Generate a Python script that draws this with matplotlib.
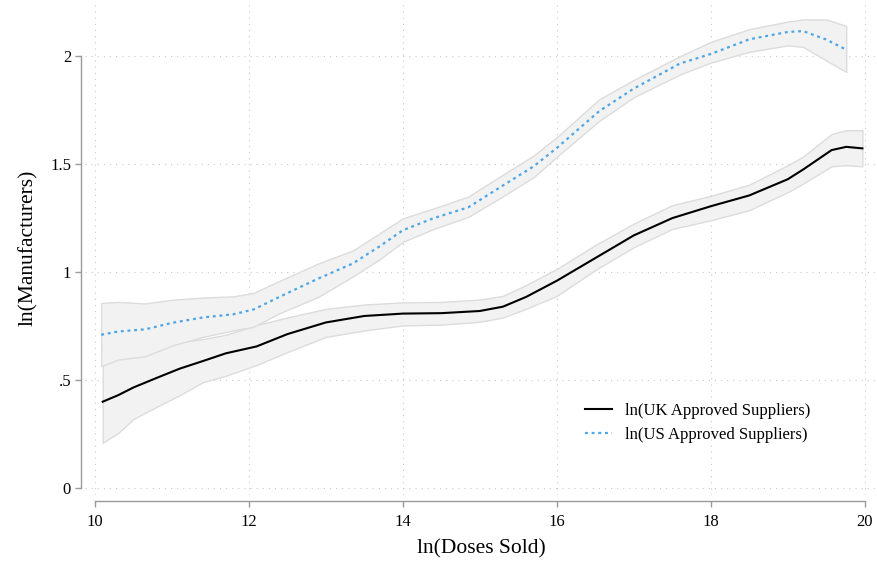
#!/usr/bin/env python3
"""ln(Manufacturers) vs ln(Doses Sold): UK / US approved suppliers, with CI bands."""

import matplotlib
matplotlib.use("Agg")
import matplotlib.pyplot as plt

# UK approved suppliers: fitted line and CI band
uk_x = [10.1, 10.3, 10.5, 10.8, 11.1, 11.4, 11.7, 12.1, 12.5, 13.0, 13.5, 14.0,
        14.5, 15.0, 15.3, 15.6, 16.0, 16.5, 17.0, 17.5, 18.0, 18.5, 19.0, 19.2,
        19.57, 19.76, 19.97]
uk_y = [0.40, 0.43, 0.466, 0.51, 0.553, 0.588, 0.624, 0.656, 0.713, 0.767, 0.797,
        0.808, 0.810, 0.82, 0.84, 0.885, 0.96, 1.065, 1.17, 1.25, 1.305, 1.355,
        1.43, 1.475, 1.565, 1.58, 1.573]
uk_lo = [0.21, 0.255, 0.32, 0.376, 0.43, 0.49, 0.52, 0.57, 0.63, 0.70, 0.73, 0.753,
         0.757, 0.77, 0.79, 0.83, 0.89, 1.01, 1.115, 1.2, 1.24, 1.287, 1.37, 1.41,
         1.49, 1.495, 1.49]
uk_hi = [0.62, 0.63, 0.645, 0.66, 0.675, 0.69, 0.71, 0.755, 0.79, 0.83, 0.85, 0.86,
         0.862, 0.873, 0.89, 0.94, 1.015, 1.125, 1.225, 1.31, 1.353, 1.405, 1.495,
         1.535, 1.64, 1.657, 1.657]

# US approved suppliers
us_x = [10.08, 10.3, 10.65, 11.0, 11.4, 11.8, 12.06, 12.4, 12.9, 13.35, 13.7, 14.0,
        14.4, 14.85, 15.25, 15.7, 16.0, 16.55, 17.0, 17.6, 18.0, 18.5, 19.0, 19.2,
        19.5, 19.76]
us_y = [0.71, 0.725, 0.735, 0.765, 0.79, 0.805, 0.827, 0.886, 0.97, 1.04, 1.12, 1.194,
        1.25, 1.30, 1.39, 1.49, 1.575, 1.745, 1.85, 1.966, 2.01, 2.078, 2.112, 2.116,
        2.077, 2.03]
us_lo = [0.565, 0.595, 0.61, 0.66, 0.70, 0.73, 0.747, 0.81, 0.885, 0.98, 1.06, 1.14,
         1.2, 1.256, 1.34, 1.44, 1.534, 1.70, 1.81, 1.915, 1.97, 2.02, 2.05, 2.043,
         1.98, 1.927]
us_hi = [0.857, 0.862, 0.855, 0.872, 0.882, 0.888, 0.904, 0.96, 1.04, 1.10, 1.18, 1.249,
         1.295, 1.35, 1.44, 1.54, 1.625, 1.80, 1.89, 2.0, 2.066, 2.125, 2.16, 2.17,
         2.17, 2.14]

x_ticks = [10, 12, 14, 16, 18, 20]
y_ticks = [0, 0.5, 1, 1.5, 2]
y_tick_labels = ["0", ".5", "1", "1.5", "2"]

plt.rcParams["font.family"] = ["Liberation Serif", "DejaVu Serif"]

W, H = 877, 565
fig = plt.figure(figsize=(W / 100, H / 100), dpi=100)
ax = fig.add_axes([85 / W, 1 - 495 / H, (W - 85) / W, 495 / H])

band_face = "#f2f2f2"
band_edge = "#dcdcdc"
ax.fill_between(uk_x, uk_lo, uk_hi, facecolor=band_face, edgecolor=band_edge,
                linewidth=1.0, zorder=2)
ax.fill_between(us_x, us_lo, us_hi, facecolor=band_face, edgecolor=band_edge,
                linewidth=1.0, zorder=3)
ax.plot(uk_x, uk_y, color="black", lw=1.5, zorder=5,
        label="ln(UK Approved Suppliers)")
ax.plot(us_x, us_y, color="#4da6e6", lw=1.6, ls=(0, (1.3, 1.7)), zorder=5,
        label="ln(US Approved Suppliers)")

ax.set_xlim(9.87, 20.16)
ax.set_ylim(-0.032, 2.26)
ax.set_xticks(x_ticks)
ax.set_yticks(y_ticks)
ax.set_yticklabels(y_tick_labels)

ax.grid(True, color="#c8c8c8", ls=(0, (1, 4.5)), lw=0.8, zorder=0)
ax.set_axisbelow(True)

for side in ("top", "right"):
    ax.spines[side].set_visible(False)
ax.spines["left"].set_position(("outward", 3))
ax.spines["bottom"].set_position(("outward", 4))
ax.spines["left"].set_bounds(0, 2)
ax.spines["bottom"].set_bounds(10, 20)
for side in ("left", "bottom"):
    ax.spines[side].set_color("#9a9a9a")
    ax.spines[side].set_linewidth(1.0)
ax.tick_params(axis="both", colors="#9a9a9a", length=4, width=1.0,
               labelcolor="black", labelsize=12)
ax.tick_params(axis="y", pad=3)
ax.tick_params(axis="x", pad=6)

ax.set_xlabel("ln(Doses Sold)", fontsize=15.5, labelpad=6)
ax.set_ylabel("ln(Manufacturers)", fontsize=15.5, labelpad=9)

fig.legend(loc="center left", bbox_to_anchor=(577 / W, 1 - 423 / H), frameon=False,
           fontsize=12, handlelength=1.6, handletextpad=0.8, labelspacing=0.5,
           borderpad=0)

fig.savefig("out.png", dpi=100)
